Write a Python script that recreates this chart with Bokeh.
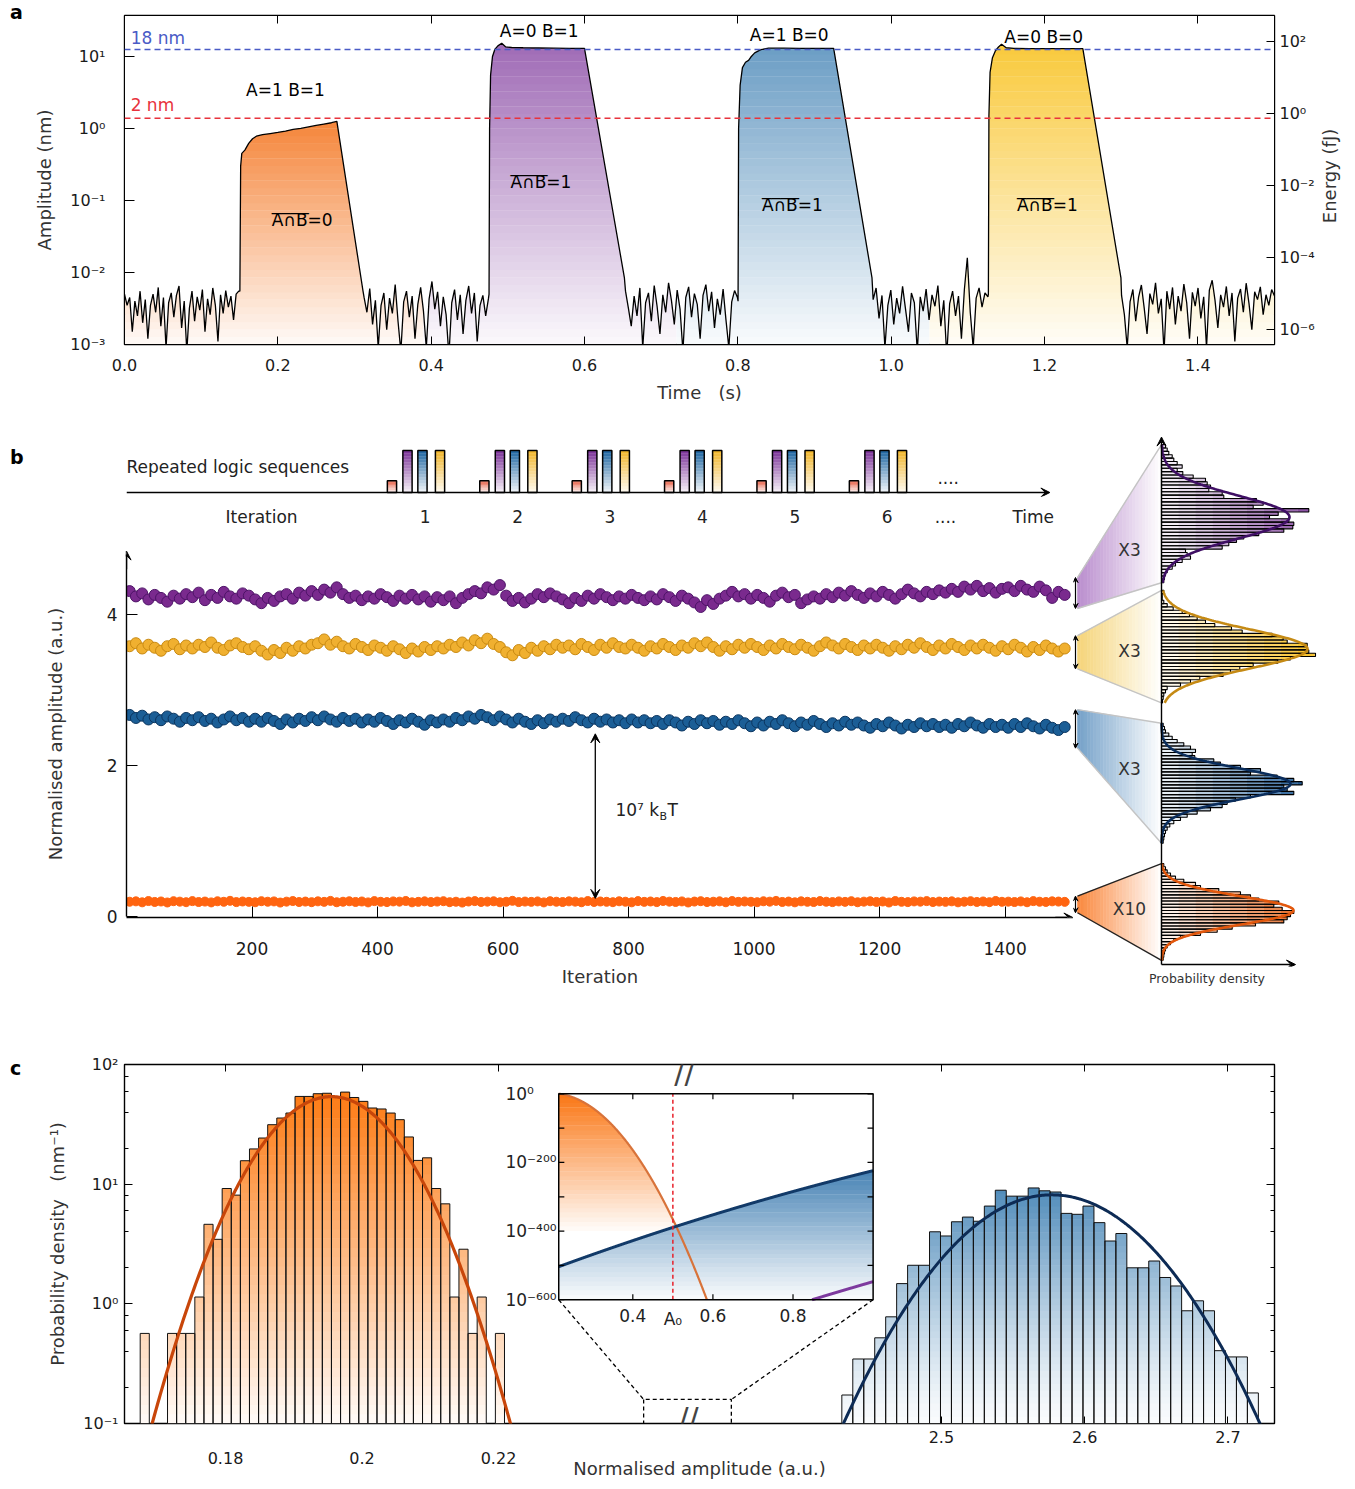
import numpy as np
from bokeh.plotting import figure
from bokeh.models import (Range1d, LinearAxis, LogAxis, FixedTicker,
                          CustomJSTickFormatter, NumeralTickFormatter, Arrow, VeeHead,
                          Label, Span, LinearScale, LogScale, Div)
from bokeh.layouts import column, row
from bokeh.embed import file_html
from bokeh.resources import INLINE
from bokeh.core.properties import value

FONT = "DejaVu Sans"

# ====================== panel a data (time s, amplitude nm) ======================
noise_seg1 = [0.005, 0.0035, 0.0045, 0.0015, 0.004, 0.0025, 0.0055, 0.002, 0.0042, 0.0012,
              0.0035, 0.005, 0.0028, 0.0062, 0.0018, 0.0045, 0.0009, 0.0038, 0.0052, 0.0024,
              0.0048, 0.0065, 0.0017, 0.004, 0.0008, 0.0032, 0.0055, 0.0021, 0.0046, 0.003,
              0.0058, 0.0015, 0.0043, 0.0026, 0.0061, 0.0035, 0.0011, 0.0049, 0.0027, 0.0056,
              0.0033, 0.0047, 0.0022, 0.005, 0.0055]
noise_seg2 = [0.0045, 0.0028, 0.006, 0.0019, 0.0041, 0.0009, 0.0035, 0.0052, 0.0016, 0.0044,
              0.0027, 0.0068, 0.0021, 0.0008, 0.0039, 0.0055, 0.0024, 0.0047, 0.0012, 0.0036,
              0.0062, 0.0029, 0.0009, 0.0043, 0.0075, 0.0031, 0.0054, 0.0018, 0.0046, 0.0026,
              0.0007, 0.0038, 0.0058, 0.0022, 0.0049, 0.0014, 0.0041, 0.0065, 0.0027, 0.0052,
              0.0011, 0.0035, 0.0048, 0.0025, 0.0044]
noise_seg3 = [0.0055, 0.0032, 0.0018, 0.0047, 0.0025, 0.0061, 0.0009, 0.0038, 0.0052, 0.0021,
              0.0066, 0.0034, 0.0014, 0.0049, 0.0028, 0.0072, 0.0041, 0.0019, 0.0057, 0.0031,
              0.0008, 0.0045, 0.0063, 0.0024, 0.0051, 0.0036, 0.0012, 0.0048, 0.0068, 0.0029,
              0.0054, 0.0017, 0.0043, 0.0026, 0.0059, 0.0022, 0.0009, 0.0039, 0.0056, 0.0045]
noise_seg4 = [0.0042, 0.0061, 0.0023, 0.0048, 0.0009, 0.0035, 0.0057, 0.0019, 0.0044, 0.0027,
              0.0064, 0.0031, 0.0015, 0.0052, 0.0038, 0.0008, 0.0046, 0.0029, 0.0059, 0.0022,
              0.0049, 0.0034, 0.0066, 0.0018, 0.0041, 0.0007, 0.0037, 0.0055, 0.0025, 0.0047,
              0.0012, 0.0058, 0.016, 0.0028, 0.0009, 0.0044, 0.0061, 0.0033, 0.0052, 0.0046]
noise_seg5 = [0.0048, 0.0026, 0.0009, 0.0039, 0.0058, 0.0021, 0.0045, 0.0067, 0.0032, 0.0014,
              0.0051, 0.0036, 0.0072, 0.0027, 0.0043, 0.0008, 0.0055, 0.0031, 0.0062, 0.0019,
              0.0047, 0.0029, 0.0069, 0.0038, 0.0012, 0.0053, 0.0034, 0.0061, 0.0023, 0.0046,
              0.0009, 0.0057, 0.0078, 0.0041, 0.0017, 0.0049, 0.0033, 0.0064, 0.0025, 0.0052,
              0.0011, 0.0044, 0.0059, 0.0028, 0.0071, 0.0037, 0.0016, 0.0054, 0.0042, 0.0063,
              0.0026, 0.0049, 0.0035, 0.0058, 0.0047]
noise_t_ranges = [(0.0, 0.149), (0.3125, 0.4748), (0.6535, 0.7995), (0.9765, 1.1262), (1.3005, 1.5)]

pulse_AB11_t = [0.1505, 0.1515, 0.153, 0.157, 0.162, 0.167, 0.172, 0.18, 0.19, 0.20, 0.21, 0.22,
                0.23, 0.24, 0.25, 0.26, 0.27, 0.277, 0.311]
pulse_AB11_a = [0.0055, 0.30, 0.45, 0.50, 0.62, 0.72, 0.78, 0.82, 0.85, 0.88, 0.92, 0.97,
                1.00, 1.05, 1.10, 1.15, 1.20, 1.25, 0.0056]
pulse_AB01_t = [0.4755, 0.4762, 0.4775, 0.480, 0.483, 0.487, 0.492, 0.497, 0.505, 0.52, 0.54,
                0.56, 0.58, 0.600, 0.652]
pulse_AB01_a = [0.005, 1.0, 5.5, 10.0, 12.5, 14.0, 15.2, 13.6, 13.3, 13.2, 13.1, 13.0, 12.9, 12.9, 0.0085]
pulse_AB10_t = [0.8003, 0.8010, 0.8030, 0.8060, 0.810, 0.814, 0.817, 0.822, 0.830, 0.840, 0.86,
                0.88, 0.90, 0.925, 0.975]
pulse_AB10_a = [0.004, 1.0, 4.0, 7.0, 8.3, 8.8, 9.8, 11.2, 12.4, 13.0, 13.0, 12.9, 12.9, 12.9, 0.0084]
pulse_AB00_t = [1.1268, 1.1275, 1.129, 1.132, 1.136, 1.140, 1.144, 1.150, 1.16, 1.18, 1.20,
                1.22, 1.24, 1.250, 1.2997]
pulse_AB00_a = [0.005, 1.5, 6.0, 9.5, 12.0, 13.5, 14.8, 13.2, 12.9, 12.8, 12.8, 12.8, 12.8, 12.8, 0.0084]
level_18nm = 12.5
level_2nm = 1.38
energy_per_amp2 = 0.385   # fJ / nm^2

# ====================== panel b data ======================
iteration = list(range(5, 1500, 10))
amp_purple = [4.31, 4.24, 4.28, 4.20, 4.26, 4.22, 4.17, 4.25, 4.21, 4.27,
              4.23, 4.29, 4.19, 4.26, 4.22, 4.30, 4.24, 4.21, 4.28, 4.25,
              4.20, 4.15, 4.22, 4.18, 4.24, 4.27, 4.21, 4.29, 4.25, 4.31,
              4.26, 4.33, 4.29, 4.36, 4.27, 4.22, 4.25, 4.19, 4.24, 4.21,
              4.27, 4.23, 4.18, 4.25, 4.21, 4.26, 4.20, 4.24, 4.17, 4.23,
              4.19, 4.24, 4.15, 4.22, 4.27, 4.31, 4.28, 4.36, 4.33, 4.39,
              4.25, 4.18, 4.22, 4.16, 4.21, 4.27, 4.23, 4.28, 4.24, 4.20,
              4.15, 4.22, 4.18, 4.25, 4.21, 4.27, 4.23, 4.19, 4.24, 4.21,
              4.26, 4.22, 4.19, 4.24, 4.20, 4.27, 4.23, 4.18, 4.25, 4.21,
              4.16, 4.10, 4.19, 4.14, 4.21, 4.25, 4.30, 4.24, 4.27, 4.21,
              4.26, 4.22, 4.17, 4.25, 4.29, 4.23, 4.26, 4.15, 4.20, 4.24,
              4.21, 4.27, 4.23, 4.29, 4.25, 4.31, 4.26, 4.22, 4.28, 4.24,
              4.30, 4.26, 4.21, 4.27, 4.33, 4.28, 4.24, 4.30, 4.27, 4.32,
              4.29, 4.34, 4.30, 4.37, 4.33, 4.38, 4.31, 4.35, 4.29, 4.34,
              4.36, 4.31, 4.38, 4.33, 4.30, 4.37, 4.32, 4.22, 4.30, 4.26]
amp_yellow = [3.58, 3.62, 3.55, 3.60, 3.56, 3.52, 3.58, 3.61, 3.54, 3.59,
              3.55, 3.60, 3.57, 3.63, 3.56, 3.53, 3.59, 3.62, 3.57, 3.54,
              3.58, 3.52, 3.47, 3.53, 3.49, 3.56, 3.52, 3.58, 3.55, 3.60,
              3.62, 3.67, 3.60, 3.64, 3.58, 3.55, 3.61, 3.57, 3.53, 3.59,
              3.56, 3.52, 3.58, 3.54, 3.49, 3.55, 3.51, 3.57, 3.53, 3.58,
              3.55, 3.60, 3.57, 3.63, 3.59, 3.66, 3.62, 3.68, 3.61, 3.57,
              3.50, 3.46, 3.53, 3.49, 3.56, 3.52, 3.58, 3.54, 3.60, 3.56,
              3.59, 3.54, 3.61, 3.57, 3.53, 3.60, 3.56, 3.62, 3.57, 3.55,
              3.60, 3.56, 3.52, 3.58, 3.55, 3.61, 3.57, 3.53, 3.59, 3.56,
              3.62, 3.58, 3.63, 3.57, 3.52, 3.58, 3.54, 3.60, 3.56, 3.61,
              3.57, 3.53, 3.59, 3.55, 3.61, 3.57, 3.54, 3.60, 3.56, 3.52,
              3.58, 3.63, 3.59, 3.55, 3.61, 3.57, 3.53, 3.59, 3.55, 3.60,
              3.56, 3.52, 3.58, 3.54, 3.60, 3.56, 3.62, 3.57, 3.53, 3.59,
              3.55, 3.61, 3.57, 3.53, 3.59, 3.55, 3.60, 3.56, 3.52, 3.58,
              3.54, 3.60, 3.56, 3.51, 3.57, 3.53, 3.59, 3.55, 3.51, 3.55]
amp_blue = [2.67, 2.63, 2.66, 2.61, 2.64, 2.60, 2.65, 2.62, 2.58, 2.63,
            2.60, 2.64, 2.59, 2.62, 2.57, 2.61, 2.65, 2.60, 2.63, 2.58,
            2.62, 2.58, 2.63, 2.59, 2.55, 2.61, 2.57, 2.62, 2.59, 2.64,
            2.60, 2.65, 2.61, 2.58, 2.63, 2.59, 2.62, 2.57, 2.61, 2.58,
            2.63, 2.59, 2.55, 2.60, 2.57, 2.62, 2.58, 2.54, 2.60, 2.57,
            2.61, 2.58, 2.63, 2.60, 2.65, 2.62, 2.67, 2.64, 2.60, 2.65,
            2.61, 2.57, 2.62, 2.58, 2.55, 2.60, 2.56, 2.61, 2.58, 2.62,
            2.59, 2.64, 2.60, 2.57, 2.62, 2.58, 2.61, 2.57, 2.60, 2.56,
            2.61, 2.57, 2.60, 2.56, 2.59, 2.55, 2.60, 2.57, 2.53, 2.58,
            2.55, 2.60, 2.56, 2.59, 2.54, 2.58, 2.55, 2.60, 2.56, 2.52,
            2.57, 2.53, 2.58, 2.55, 2.60, 2.56, 2.52, 2.57, 2.54, 2.59,
            2.55, 2.51, 2.56, 2.53, 2.58, 2.54, 2.57, 2.53, 2.50, 2.55,
            2.52, 2.57, 2.53, 2.49, 2.54, 2.51, 2.56, 2.52, 2.55, 2.51,
            2.54, 2.50, 2.55, 2.52, 2.57, 2.53, 2.50, 2.55, 2.51, 2.54,
            2.50, 2.55, 2.51, 2.56, 2.52, 2.49, 2.54, 2.50, 2.47, 2.51]
amp_orange = [0.196, 0.201, 0.188, 0.205, 0.193, 0.199, 0.186, 0.203, 0.197, 0.190,
              0.204, 0.192, 0.198, 0.187, 0.202, 0.195, 0.208, 0.191, 0.199, 0.194,
              0.189, 0.203, 0.196, 0.200, 0.185, 0.197, 0.205, 0.192, 0.198, 0.190,
              0.201, 0.194, 0.207, 0.189, 0.196, 0.202, 0.193, 0.199, 0.187, 0.204,
              0.195, 0.191, 0.200, 0.197, 0.206, 0.188, 0.194, 0.201, 0.192, 0.198,
              0.203, 0.190, 0.196, 0.185, 0.199, 0.204, 0.193, 0.197, 0.202, 0.189,
              0.195, 0.208, 0.191, 0.198, 0.194, 0.200, 0.187, 0.203, 0.196, 0.192,
              0.201, 0.197, 0.189, 0.205, 0.193, 0.199, 0.195, 0.190, 0.202, 0.196,
              0.188, 0.204, 0.194, 0.199, 0.191, 0.206, 0.197, 0.193, 0.200, 0.186,
              0.198, 0.203, 0.192, 0.196, 0.201, 0.189, 0.205, 0.194, 0.199, 0.195,
              0.190, 0.202, 0.197, 0.207, 0.193, 0.198, 0.188, 0.201, 0.195, 0.192,
              0.204, 0.196, 0.191, 0.200, 0.194, 0.203, 0.189, 0.197, 0.202, 0.193,
              0.199, 0.186, 0.205, 0.195, 0.191, 0.200, 0.197, 0.204, 0.192, 0.198,
              0.194, 0.201, 0.188, 0.196, 0.203, 0.193, 0.199, 0.190, 0.206, 0.195,
              0.197, 0.192, 0.200, 0.189, 0.204, 0.196, 0.193, 0.201, 0.198, 0.194]
# side histograms (bar lengths, arbitrary density units, listed top bin first)
hist_purple = [4, 5.7, 7.3, 10.7, 12.3, 15.7, 20.7, 15.7, 21.3, 31.7, 44, 45.7, 49, 47.3, 60.7,
               62.3, 95, 101.7, 91.7, 147.3, 116.7, 108, 127.3, 132.3, 131.3, 122.3, 97.3, 82.3,
               75, 67.3, 60.7, 24, 25.7, 29, 20.7, 14, 10.7, 5.7, 4, 3, 2.3]
hist_yellow = [2.3, 0.7, 0.7, 2.3, 5.7, 11.7, 20.7, 28, 35.7, 44, 53.3, 70, 80.7, 110.7, 121.7,
               125.7, 145.7, 145.7, 147.3, 154, 129, 116.3, 91.7, 78.3, 69, 61.7, 38.3, 29, 19,
               5.7, 4, 2.3, 1.7, 1]
hist_blue = [1.7, 3, 4, 7.3, 10.7, 15.7, 22.3, 29, 34, 30.7, 33.3, 52.3, 59, 79, 99, 89, 115.7,
             132.3, 140.7, 122.3, 125.7, 132.3, 89, 74, 65.7, 60.7, 49, 35.7, 25.7, 19, 12.3,
             8.3, 5.7, 4, 3, 2.3, 1.7]
hist_orange = [2.3, 4, 5.7, 9, 14, 22.3, 34, 39, 57.3, 79, 89, 97.3, 117.3, 112.3, 120.7, 132.3,
               129, 125.7, 122.3, 94, 70.7, 55.7, 39, 19, 12.3, 9, 5.7, 4, 3, 2.3, 1.7]
# fitted curve on each side histogram: (centre bin, width in bins, peak)
side_fit = {"purple": (21.0, 6.3, 128), "yellow": (17.2, 5.9, 146),
            "blue": (18.2, 4.8, 129), "orange": (14.5, 4.5, 132)}
logic_groups = [1, 2, 3, 4, 5, 6]
logic_heights = [0.28, 1.0, 1.0, 1.0]     # A=B=1, A=0 B=1, A=1 B=0, A=B=0
iteration_labels = ["Iteration", "1", "2", "3", "4", "5", "6", "....", "Time"]

# ====================== panel c data ======================
c_orange_start, c_orange_width = 0.1675, 0.0013344
c_orange_density = [0.566, 0, 0, 0.566, 0.566, 0.566, 1.14, 4.62, 3.46, 9.2, 8.1, 15.7, 19.7,
                    24.3, 31.4, 35.7, 39.3, 54.1, 54.1, 57, 57.5, 53.3, 58.8, 53, 49.2, 43.3,
                    42.5, 39.3, 34.6, 24.8, 15.8, 16.6, 9.2, 6.85, 1.14, 2.86, 0.566, 1.14, 0, 0.566]
c_blue_start, c_blue_width = 2.4305, 0.007651
c_blue_density = [0.173, 0.346, 0.346, 0.52, 0.779, 1.476, 2.10, 2.10, 4.0, 3.69, 4.85, 5.31,
                  4.9, 6.56, 8.9, 7.94, 7.94, 9.3, 8.8, 8.6, 5.7, 5.6, 6.56, 4.77, 3.35, 3.87,
                  2.0, 2.0, 2.28, 1.66, 1.41, 0.875, 1.06, 0.875, 0.406, 0.36, 0.36, 0.18]
fit_mu = {"orange": 0.1955, "blue": 2.577, "purple": 4.24}
fit_sigma = {"orange": 0.0074, "blue": 0.049, "purple": 0.0645}
A0 = 0.5

# ====================== helpers ======================
def mix(rgb, f):
    f = min(1.0, max(0.0, float(f)))
    return "#%02x%02x%02x" % tuple(int(round(255 + (c - 255) * f)) for c in rgb)

LOG_SUP = """
const m = {"-":"\\u207b","0":"\\u2070","1":"\\u00b9","2":"\\u00b2","3":"\\u00b3","4":"\\u2074","5":"\\u2075","6":"\\u2076","7":"\\u2077","8":"\\u2078","9":"\\u2079"};
const e = Math.round(Math.log10(tick));
return "10" + String(e).split("").map(c => m[c]).join("");
"""
SUP = str.maketrans("-0123456789", "\u207b\u2070\u00b9\u00b2\u00b3\u2074\u2075\u2076\u2077\u2078\u2079")

def pow10(e):
    return "10" + str(e).translate(SUP)

def style_axis(ax, label_size="16px", title_size="18px"):
    ax.major_label_text_font = FONT
    ax.major_label_text_font_size = label_size
    ax.major_label_text_color = "#1a1a1a"
    ax.axis_label_text_font = FONT
    ax.axis_label_text_font_size = title_size
    ax.axis_label_text_font_style = "normal"
    ax.axis_label_text_color = "#333333"
    ax.axis_line_color = "black"
    ax.major_tick_line_color = "black"
    ax.minor_tick_line_color = None
    return ax

def hide_labels(ax):
    ax.major_label_text_font_size = "1px"
    ax.major_label_text_color = None
    ax.major_label_standoff = 0
    return ax

def base_fig(**kw):
    p = figure(output_backend="svg", toolbar_location=None,
               x_axis_location=None, y_axis_location=None, **kw)
    p.outline_line_color = None
    p.background_fill_color = "white"
    p.border_fill_color = "white"
    p.grid.grid_line_color = None
    return p

def letter(t, h, top):
    return Div(text='<div style="position:relative;left:10px;top:%dpx;font-family:\'DejaVu Sans\';'
                    'font-size:19px;font-weight:bold;line-height:20px;color:black">%s</div>' % (top, t),
               width=30, height=h, margin=(0, 0, 0, 0))

def vertical_title(t, w, h, cx, cy):
    return Div(text='<div style="position:relative;left:%dpx;top:%dpx;width:0;height:0">'
                    '<div style="position:absolute;left:0;top:0;transform:translate(-50%%,-50%%) rotate(-90deg);'
                    'white-space:nowrap;font-family:\'DejaVu Sans\';font-size:18px;line-height:20px;color:#333333">'
                    '%s</div></div>' % (cx, cy, t),
               width=w, height=h, margin=(0, 0, 0, 0))

def txt(p, x, y, s, size="17px", color="black", align="center", baseline="middle", **kw):
    p.text(x=x, y=y, text=s, text_font=value(FONT), text_font_size=size,
           text_color=color, text_align=align, text_baseline=baseline, **kw)

# ====================== panel a ======================
AMP_TOP = 37.0
pa = base_fig(frame_width=1150, frame_height=329, min_border_left=94, min_border_right=40,
              min_border_top=15, min_border_bottom=66, y_axis_type="log",
              x_range=Range1d(0, 1.5), y_range=Range1d(1e-3, AMP_TOP))
pa.outline_line_color = "black"
pa.outline_line_width = 1.4
pa.extra_y_ranges = {"energy": Range1d(energy_per_amp2 * 1e-6, energy_per_amp2 * AMP_TOP ** 2)}
pa.extra_y_scales = {"energy": LogScale()}

noise = [noise_seg1, noise_seg2, noise_seg3, noise_seg4, noise_seg5]
pulses_t = [pulse_AB11_t, pulse_AB01_t, pulse_AB10_t, pulse_AB00_t]
pulses_a = [pulse_AB11_a, pulse_AB01_a, pulse_AB10_a, pulse_AB00_a]
trace_t, trace_a = [], []
for i in range(5):
    t0, t1 = noise_t_ranges[i]
    trace_t += list(np.linspace(t0, t1, len(noise[i])))
    trace_a += noise[i]
    if i < 4:
        trace_t += pulses_t[i]
        trace_a += pulses_a[i]

gate_colors = [(245, 133, 58), (160, 108, 182), (108, 158, 197), (249, 202, 62)]
regions = [(0.0, 0.39, 1.25), (0.39, 0.72, 14.0), (0.72, 1.05, 13.0), (1.05, 1.5, 13.0)]
edges = np.logspace(-3, np.log10(AMP_TOP * 1.2), 46)
for (x0, x1, peak), rgb in zip(regions, gate_colors):
    cen = np.sqrt(edges[:-1] * edges[1:])
    f = (np.log10(cen) + 3) / (np.log10(peak) + 3)
    cols = [mix(rgb, 0.04 + 0.96 * min(ff, 1.0)) for ff in f]
    pa.quad(left=x0, right=x1, bottom=edges[:-1], top=edges[1:] * 1.01, fill_color=cols, line_color=None)
pa.varea(x=trace_t, y1=trace_a, y2=100.0, fill_color="white")
pa.line(trace_t, trace_a, line_color="black", line_width=1.3)
pa.add_layout(Span(location=level_18nm, dimension="width", line_color="#4A5BC6", line_dash="6 4", line_width=1.5))
pa.add_layout(Span(location=level_2nm, dimension="width", line_color="#E8323C", line_dash="6 4", line_width=1.5))
txt(pa, [0.008], [level_18nm], ["18 nm"], color="#4A5BC6", align="left", baseline="bottom", y_offset=-1)
txt(pa, [0.008], [level_2nm], ["2 nm"], color="#E8323C", align="left", baseline="bottom", y_offset=-3)
txt(pa, [0.21, 0.541, 0.867, 1.199], [3.37, 22.2, 19.6, 18.4],
    ["A=1 B=1", "A=0 B=1", "A=1 B=0", "A=0 B=0"])
nand_x = [0.2326, 0.544, 0.872, 1.2045]
nand_y = [0.0527, 0.178, 0.0853, 0.0853]
txt(pa, nand_x, nand_y, ["A\u2229B=0", "A\u2229B=1", "A\u2229B=1", "A\u2229B=1"], align="left", x_offset=-31)
txt(pa, nand_x, nand_y, ["\u203e\u203e\u203e\u203e"] * 4, size="18.5px", align="left", x_offset=-31, y_offset=-1)

ax = style_axis(LogAxis(ticker=FixedTicker(ticks=[1e-3, 1e-2, 1e-1, 1, 10]),
                        formatter=CustomJSTickFormatter(code=LOG_SUP), axis_label="Amplitude (nm)"))
ax.major_tick_in, ax.major_tick_out = 10, 0
ax.major_label_standoff, ax.axis_label_standoff = 19, 12
pa.add_layout(ax, "left")
ax = style_axis(LogAxis(y_range_name="energy", ticker=FixedTicker(ticks=[1e-6, 1e-4, 1e-2, 1, 1e2]),
                        formatter=CustomJSTickFormatter(code=LOG_SUP)))
ax.major_tick_in, ax.major_tick_out = 8, 0
ax.major_label_standoff = 5
pa.add_layout(ax, "right")
xt = [0.0, 0.2, 0.4, 0.6, 0.8, 1.0, 1.2, 1.4]
ax = style_axis(LinearAxis(ticker=FixedTicker(ticks=xt), formatter=NumeralTickFormatter(format="0.0"),
                           axis_label="Time\u00a0\u00a0\u00a0(s)"))
ax.major_tick_in, ax.major_tick_out = 8, 0
ax.major_label_standoff, ax.axis_label_standoff = 14, 8
pa.add_layout(ax, "below")
ax = hide_labels(style_axis(LinearAxis(ticker=FixedTicker(ticks=xt))))
ax.major_tick_in, ax.major_tick_out = 8, 0
pa.add_layout(ax, "above")

# ====================== panel b: schematic ======================
ps = base_fig(frame_width=924, frame_height=51, min_border_left=96, min_border_right=23,
              min_border_top=35, min_border_bottom=39,
              x_range=Range1d(-1.873, 8.127), y_range=Range1d(-0.095, 1.119))
bar_rgb = [(232, 88, 60), (122, 48, 150), (28, 100, 160), (240, 180, 40)]
bar_off = [0.0, 0.168, 0.33, 0.52]
gx = np.array(logic_groups, dtype=float)
nb = 14
for h, off, rgb in zip(logic_heights, bar_off, bar_rgb):
    for j in range(nb):
        ps.quad(left=gx + off - 0.05, right=gx + off + 0.05, bottom=h * j / nb,
                top=h * (j + 1) / nb + 0.004, fill_color=mix(rgb, 0.06 + 0.94 * (j + 0.5) / nb),
                line_color=None)
    ps.quad(left=gx + off - 0.05, right=gx + off + 0.05, bottom=0, top=h,
            fill_color=None, line_color="black", line_width=1.5)
ps.add_layout(Arrow(end=VeeHead(size=9, fill_color="black", line_color="black"),
                    x_start=-1.873, y_start=0, x_end=8.12, y_end=0, line_width=1.5, line_color="black"))
txt(ps, [-1.873], [0.6], ["Repeated logic sequences"], align="left", color="#222")
txt(ps, [7.02], [0.36], ["...."], color="#222")
tick_pos = [-0.411] + [g + 0.36 for g in logic_groups] + [6.99, 7.94]
ax = style_axis(LinearAxis(ticker=FixedTicker(ticks=tick_pos),
                           formatter=CustomJSTickFormatter(args=dict(pos=tick_pos, lab=iteration_labels), code="""
let b = 0;
for (let i = 0; i < pos.length; i++) { if (Math.abs(pos[i] - tick) < Math.abs(pos[b] - tick)) b = i; }
return lab[b];""")), label_size="17px")
ax.axis_line_color = None
ax.major_tick_line_color = None
ax.major_tick_in, ax.major_tick_out = 0, 0
ax.major_label_standoff = 10
ax.major_label_text_color = "#222"
ps.add_layout(ax, "below")

# ====================== panel b: scatter ======================
pb = base_fig(frame_width=947, frame_height=367, min_border_left=96, min_border_right=0,
              min_border_top=15, min_border_bottom=71,
              x_range=Range1d(0, 1509), y_range=Range1d(-0.013, 4.848))
ax = style_axis(LinearAxis(ticker=FixedTicker(ticks=[200, 400, 600, 800, 1000, 1200, 1400]),
                           axis_label="Iteration"), label_size="17px")
ax.major_tick_in, ax.major_tick_out = 11, 0
ax.bounds = (0, 1500)
ax.axis_line_width = 1.4
ax.major_label_standoff, ax.axis_label_standoff = 24, 8
pb.add_layout(ax, "below")
ax = style_axis(LinearAxis(ticker=FixedTicker(ticks=[0, 2, 4]), axis_label="Normalised amplitude (a.u.)"),
                label_size="17px")
ax.major_tick_in, ax.major_tick_out = 11, 0
ax.bounds = (0, 4.8)
ax.axis_line_width = 1.4
ax.major_label_standoff, ax.axis_label_standoff = 9, 38
pb.add_layout(ax, "left")
pb.add_layout(Arrow(end=VeeHead(size=9, fill_color="black", line_color="black"),
                    x_start=1480, y_start=-0.013, x_end=1508, y_end=-0.013, line_width=1.4))
pb.add_layout(Arrow(end=VeeHead(size=9, fill_color="black", line_color="black"),
                    x_start=0, y_start=4.6, x_end=0, y_end=4.84, line_width=1.4))
series = [(amp_purple, "#7A2A8E", "#4E1468"), (amp_yellow, "#F0B030", "#C98A12"),
          (amp_blue, "#1B5E96", "#0B355F")]
for vals, fc, lc in series:
    pb.scatter(x=iteration, y=vals, size=11, fill_color=fc, line_color=lc, line_width=1)
pb.scatter(x=iteration, y=amp_orange, size=9, fill_color="#FF6410", line_color="#FF6410")
pb.add_layout(Arrow(start=VeeHead(size=9, fill_color="black", line_color="black"),
                    end=VeeHead(size=9, fill_color="black", line_color="black"),
                    x_start=747, y_start=2.42, x_end=747, y_end=0.24, line_width=1.3))
txt(pb, [779], [1.41], ["10\u2077 k"], align="left", color="#222")
txt(pb, [779], [1.41], ["B"], size="11px", align="left", color="#222", x_offset=44, y_offset=6)
txt(pb, [779], [1.41], ["T"], size="17px", align="left", color="#222", x_offset=52)

# ====================== panel b: side histograms ======================
Y_LO, Y_HI = -0.662, 6.437
ph = base_fig(frame_width=267, frame_height=536, min_border_left=0, min_border_right=10,
              min_border_top=20, min_border_bottom=22,
              x_range=Range1d(-88, 179), y_range=Range1d(Y_LO, Y_HI))
side = [  # name, data, slot (lo, hi), band (lo, hi), bar colour, fit colour, fan colour, fan edge, label
    ("purple", hist_purple, (4.42, 6.25), (4.08, 4.49), (135, 75, 160), "#3F0F64", (185, 140, 205), "#C4C4C4", "X3", 4.86),
    ("yellow", hist_yellow, (2.83, 4.32), (3.28, 3.72), (250, 195, 40), "#C58A14", (245, 212, 120), "#C4C4C4", "X3", 3.51),
    ("blue", hist_blue, (0.97, 2.56), (2.23, 2.74), (25, 85, 145), "#0A2D5C", (115, 160, 200), "#C4C4C4", "X3", 1.96),
    ("orange", hist_orange, (-0.58, 0.70), (0.05, 0.27), (225, 95, 20), "#E2570C", (250, 135, 60), "#222222", "X10", 0.106),
]
xL, xR, nsl = -84.0, 0.0, 26
xe = np.linspace(xL, xR, nsl + 1)
tt = (xe - xL) / (xR - xL)
seg_w, nseg = 17.0, 9
for name, data, (slo, shi), (blo, bhi), brgb, fcol, frgb, fedge, lab, laby in side:
    lo = blo + (slo - blo) * tt
    hi = bhi + (shi - bhi) * tt
    xs = [[xe[j], xe[j + 1], xe[j + 1], xe[j]] for j in range(nsl)]
    ys = [[lo[j], lo[j + 1], hi[j + 1], hi[j]] for j in range(nsl)]
    cols = [mix(frgb, 1.0 - (j + 0.5) / nsl) for j in range(nsl)]
    ph.patches(xs=xs, ys=ys, fill_color=cols, line_color=cols, line_width=0.6)
    ph.line([xL, xR], [bhi, shi], line_color=fedge, line_width=1.4)
    ph.line([xL, xR], [blo, slo], line_color=fedge, line_width=1.4)
    ph.add_layout(Arrow(start=VeeHead(size=5, fill_color="black", line_color="black"),
                        end=VeeHead(size=5, fill_color="black", line_color="black"),
                        x_start=-86, y_start=blo, x_end=-86, y_end=bhi, line_width=1.2))
    txt(ph, [-32], [laby], [lab], color="#333")
    n = len(data)
    k = n / (shi - slo)
    rname = "h_" + name
    ph.extra_y_ranges[rname] = Range1d(start=-0.5 + (shi - Y_LO) * k, end=-0.5 + (shi - Y_HI) * k)
    ph.extra_y_scales[rname] = LinearScale()
    u = np.arange(n, dtype=float)
    v = np.array(data, dtype=float)
    for j in range(nseg):
        a0, a1 = j * seg_w, (j + 1) * seg_w
        m = v > a0
        if m.any():
            ph.hbar(y=u[m], height=1.0, left=a0, right=np.minimum(v[m], a1 + 0.3),
                    fill_color=mix(brgb, 0.05 + 0.95 * (j + 0.5) / nseg), line_color=None,
                    y_range_name=rname)
    ph.hbar(y=u, height=1.0, left=0, right=v, fill_color=None, line_color="black",
            line_width=1.1, y_range_name=rname)
    c, s, P = side_fit[name]
    ug = np.linspace(-0.5, n - 0.5, 240)
    ph.line(x=P * np.exp(-(ug - c) ** 2 / (2 * s * s)), y=ug, line_color=fcol, line_width=2.6,
            y_range_name=rname)
ph.add_layout(Arrow(end=VeeHead(size=9, fill_color="black", line_color="black"),
                    x_start=0, y_start=-0.636, x_end=0, y_end=6.35, line_width=1.4))
ph.add_layout(Arrow(end=VeeHead(size=9, fill_color="black", line_color="black"),
                    x_start=0, y_start=-0.636, x_end=134, y_end=-0.636, line_width=1.4))
ax = hide_labels(style_axis(LinearAxis(ticker=FixedTicker(ticks=[0]), axis_label="Probability density"),
                            title_size="12.5px"))
ax.axis_line_color = None
ax.major_tick_line_color = None
ax.major_tick_in, ax.major_tick_out = 0, 0
ax.axis_label_standoff = 4
ph.add_layout(ax, "below")

# ====================== panel c ======================
pc = base_fig(frame_width=1150, frame_height=359, min_border_left=94, min_border_right=76,
              min_border_top=75, min_border_bottom=64, y_axis_type="log",
              x_range=Range1d(0.1652, 0.3337), y_range=Range1d(0.1, 100))
pc.outline_line_color = "black"
pc.outline_line_width = 1.4
pc.extra_x_ranges = {"r": Range1d(1.9298, 2.7325), "ix": Range1d(-0.8692, 2.0022)}
pc.extra_x_scales = {"r": LinearScale(), "ix": LinearScale()}
pc.extra_y_ranges = {"iy": Range1d(-960.4, 85.3)}
pc.extra_y_scales = {"iy": LinearScale()}

def log_hist(p, start, width, dens, rgb, ytop, gamma, xr=None):
    d = np.array(dens, dtype=float)
    el = start + width * np.arange(len(d))
    er = el + width
    kw = {} if xr is None else {"x_range_name": xr}
    be = np.logspace(-1, np.log10(ytop), 37)
    for j in range(len(be) - 1):
        b0, b1 = be[j], be[j + 1]
        m = d > b0
        if not m.any():
            continue
        f = ((np.log10(np.sqrt(b0 * b1)) + 1) / (np.log10(ytop) + 1)) ** gamma
        p.quad(left=el[m], right=er[m], bottom=b0, top=np.minimum(d[m], b1 * 1.01),
               fill_color=mix(rgb, 0.03 + 0.97 * f), line_color=None, **kw)
    m = d > 0
    p.quad(left=el[m], right=er[m], bottom=0.1, top=d[m], fill_color=None,
           line_color="#111111", line_width=1.0, **kw)

def gauss(x, mu, sig):
    return np.exp(-(x - mu) ** 2 / (2 * sig ** 2)) / (sig * np.sqrt(2 * np.pi))

def log10_gauss(x, mu, sig):
    return np.log10(1.0 / (sig * np.sqrt(2 * np.pi))) - (x - mu) ** 2 / (2 * sig ** 2 * np.log(10))

log_hist(pc, c_orange_start, c_orange_width, c_orange_density, (253, 122, 18), 60.0, 1.0)
log_hist(pc, c_blue_start, c_blue_width, c_blue_density, (78, 138, 185), 9.5, 1.25, xr="r")
xo = np.linspace(0.155, 0.235, 400)
pc.line(xo, gauss(xo, fit_mu["orange"], fit_sigma["orange"]), line_color="#C8460A", line_width=3.2)
xb = np.linspace(2.38, 2.78, 400)
pc.line(xb, gauss(xb, fit_mu["blue"], fit_sigma["blue"]), line_color="#0D2B55", line_width=3,
        x_range_name="r")

# inset (log10 of probability density)
IR = dict(x_range_name="ix", y_range_name="iy")
X0, X1, YB = 0.215, 1.0, -600.0
pc.quad(left=X0, right=X1, bottom=YB, top=0, fill_color="white", line_color=None, **IR)
xi = np.linspace(X0, X1, 1500)
lb = log10_gauss(xi, fit_mu["blue"], fit_sigma["blue"])
lo_ = log10_gauss(xi, fit_mu["orange"], fit_sigma["orange"])
lp = log10_gauss(xi, fit_mu["purple"], fit_sigma["purple"])
bb = np.linspace(YB, -200, 31)
for j in range(len(bb) - 1):
    b0, b1 = bb[j], bb[j + 1]
    y2 = np.clip(lb, b0, b1 + 1)
    f = ((0.5 * (b0 + b1)) - YB) / 380.0
    pc.varea(x=xi, y1=b0, y2=y2, fill_color=mix((70, 130, 180), 0.02 + 0.98 * f), **IR)
ob = np.linspace(-400, 0, 31)
lower = np.maximum(lb, YB)
for j in range(len(ob) - 1):
    b0, b1 = ob[j], ob[j + 1]
    y1 = np.clip(lower, b0, b1)
    y2 = np.maximum(np.clip(lo_, b0, b1 + 1), y1)
    f = ((0.5 * (b0 + b1)) + 400) / 400.0
    pc.varea(x=xi, y1=y1, y2=y2, fill_color=mix((250, 118, 20), 0.02 + 0.98 * f), **IR)
pc.line(xi, np.where(lo_ >= YB, lo_, np.nan), line_color="#D8733A", line_width=2.2, **IR)
pc.line(xi, lb, line_color="#123A68", line_width=3, **IR)
pc.line(xi, np.where(lp >= YB, lp, np.nan), line_color="#7D3A9E", line_width=3, **IR)
pc.segment(x0=A0, y0=YB, x1=A0, y1=0, line_color="#E8202A", line_dash="4 3", line_width=1.5, **IR)
iy_ticks = [0, -100, -200, -300, -400, -500, -600]
ix_ticks = [0.4, 0.6, 0.8]
pc.segment(x0=X0, y0=iy_ticks, x1=X0 + 0.014, y1=iy_ticks, line_color="black", line_width=1.2, **IR)
pc.segment(x0=X1, y0=iy_ticks, x1=X1 - 0.014, y1=iy_ticks, line_color="black", line_width=1.2, **IR)
pc.segment(x0=ix_ticks, y0=YB, x1=ix_ticks, y1=YB + 16, line_color="black", line_width=1.2, **IR)
pc.segment(x0=ix_ticks, y0=0, x1=ix_ticks, y1=-16, line_color="black", line_width=1.2, **IR)
pc.quad(left=X0, right=X1, bottom=YB, top=0, fill_color=None, line_color="black", line_width=1.5, **IR)
txt(pc, [0.082] * 4, [0, -200, -400, -600], [pow10(0), pow10(-200), pow10(-400), pow10(-600)],
    size="17px", align="left", color="#222", **IR)
txt(pc, [0.4, A0, 0.6, 0.8], [YB] * 4, ["0.4", "A\u2080", "0.6", "0.8"], size="17px",
    color="#222", baseline="top", y_offset=9, **IR)
# zoom guide
zb = (0.427, 0.646, -1021.0, -890.4)
pc.line([X0, zb[0]], [YB, zb[3]], line_color="black", line_dash="4 3", line_width=1.3, **IR)
pc.line([X1, zb[1]], [YB, zb[3]], line_color="black", line_dash="4 3", line_width=1.3, **IR)
pc.line([zb[0], zb[0], zb[1], zb[1], zb[0]], [zb[3], zb[2], zb[2], zb[3], zb[3]],
        line_color="black", line_dash="4 3", line_width=1.3, **IR)
for bx, by in [(0.529, 62.0), (0.539, -945.0)]:
    pc.add_layout(Label(x=bx, y=by, text="//", text_font=FONT, text_font_size="30px",
                        text_align="center", text_baseline="middle", **IR))

ax = style_axis(LogAxis(formatter=CustomJSTickFormatter(code=LOG_SUP),
                        axis_label="Probability density\u00a0\u00a0\u00a0(nm\u207b\u00b9)"))
ax.major_tick_in, ax.major_tick_out = 8, 0
ax.minor_tick_line_color = "black"
ax.minor_tick_in, ax.minor_tick_out = 4, 0
ax.major_label_standoff, ax.axis_label_standoff = 6, 12
pc.add_layout(ax, "left")
ax = hide_labels(style_axis(LogAxis()))
ax.major_tick_in, ax.major_tick_out = 8, 0
ax.minor_tick_line_color = "black"
ax.minor_tick_in, ax.minor_tick_out = 4, 0
pc.add_layout(ax, "right")
NUMFMT = "return String(Math.round(tick * 1000) / 1000);"
for xr_name, tks in [("default", [0.18, 0.2, 0.22]), ("r", [2.5, 2.6, 2.7])]:
    ax = hide_labels(style_axis(LinearAxis(x_range_name=xr_name, ticker=FixedTicker(ticks=tks))))
    ax.major_tick_in, ax.major_tick_out = 7, 0
    ax.axis_line_color = None
    pc.add_layout(ax, "above")
ax = style_axis(LinearAxis(x_range_name="r", ticker=FixedTicker(ticks=[2.5, 2.6, 2.7]),
                           formatter=CustomJSTickFormatter(code=NUMFMT)), label_size="16px")
ax.major_tick_in, ax.major_tick_out = 7, 0
ax.axis_line_color = None
ax.major_label_standoff = 7
pc.add_layout(ax, "below")
ax = style_axis(LinearAxis(ticker=FixedTicker(ticks=[0.18, 0.2, 0.22]),
                           formatter=CustomJSTickFormatter(code=NUMFMT),
                           axis_label="Normalised amplitude (a.u.)"), label_size="16px")
ax.axis_line_color = None
ax.major_tick_line_color = None
ax.major_tick_in, ax.major_tick_out = 0, 0
ax.major_label_standoff = 6
ax.axis_label_standoff = -9
pc.add_layout(ax, "below")

layout = column(
    row(letter("a", 410, 2), pa, vertical_title("Energy (fJ)", 36, 410, 13, 164)),
    row(letter("b", 578, 37), column(ps, pb), ph),
    row(letter("c", 498, 69), pc),
)
open("out.html", "w").write(file_html(layout, INLINE))
